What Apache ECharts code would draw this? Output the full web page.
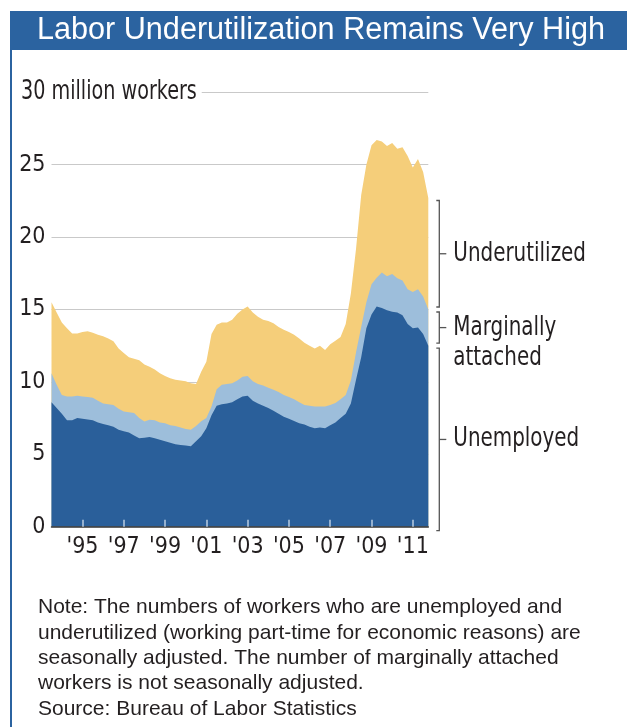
<!DOCTYPE html>
<html>
<head>
<meta charset="utf-8">
<script src="https://cdn.jsdelivr.net/npm/echarts@6/dist/echarts.min.js"></script>
<style>
  html, body { margin: 0; padding: 0; background: #fff; }
  #chart { width: 627px; height: 727px; }
</style>
</head>
<body>
<div id="chart"></div>
<script>
// quarterly readings, millions of workers
const dates = [
  1994, 1994.25, 1994.5, 1994.75, 1995, 1995.25, 1995.5, 1995.75,
  1996, 1996.25, 1996.5, 1996.75, 1997, 1997.25, 1997.5, 1997.75,
  1998, 1998.25, 1998.5, 1998.75, 1999, 1999.25, 1999.5, 1999.75,
  2000, 2000.25, 2000.5, 2000.75, 2001, 2001.25, 2001.5, 2001.75,
  2002, 2002.25, 2002.5, 2002.75, 2003, 2003.25, 2003.5, 2003.75,
  2004, 2004.25, 2004.5, 2004.75, 2005, 2005.25, 2005.5, 2005.75,
  2006, 2006.25, 2006.5, 2006.75, 2007, 2007.25, 2007.5, 2007.75,
  2008, 2008.25, 2008.5, 2008.75, 2009, 2009.25, 2009.5, 2009.75,
  2010, 2010.25, 2010.5, 2010.75, 2011, 2011.25, 2011.5, 2011.75,
  2012, 2012.25
]

// top of the unemployed band
const unemployed = [
  8.6, 8.2, 7.8, 7.35, 7.35, 7.5, 7.45, 7.4,
  7.35, 7.2, 7.1, 7.0, 6.9, 6.7, 6.6, 6.5,
  6.3, 6.1, 6.15, 6.2, 6.1, 6.0, 5.9, 5.8,
  5.7, 5.65, 5.6, 5.55, 5.9, 6.25, 6.8, 7.7,
  8.35, 8.45, 8.5, 8.6, 8.8, 9.0, 9.05, 8.7,
  8.5, 8.35, 8.2, 8.0, 7.8, 7.6, 7.45, 7.3,
  7.15, 7.05, 6.9, 6.8, 6.85, 6.8, 7.0, 7.2,
  7.5, 7.8, 8.5, 10.15, 11.7, 13.7, 14.65, 15.2,
  15.1, 14.95, 14.85, 14.8, 14.6, 14.0, 13.7, 13.75,
  13.3, 12.5
]

// unemployed + marginally attached
const withMarginal = [
  10.6, 9.8, 9.1, 9.0, 9.0, 9.05, 9.0, 8.95,
  8.9, 8.7, 8.5, 8.45, 8.4, 8.15, 7.95, 7.9,
  7.85, 7.5, 7.26, 7.38, 7.35, 7.2, 7.15, 7.0,
  6.95, 6.85, 6.75, 6.7, 6.95, 7.28, 7.5, 8.3,
  9.5, 9.8, 9.85, 9.9, 10.1, 10.35, 10.4, 10.05,
  9.85, 9.75, 9.6, 9.45, 9.3, 9.1, 8.95, 8.8,
  8.6, 8.4, 8.35, 8.3, 8.3, 8.3, 8.4, 8.55,
  8.8, 9.1, 10.1, 12.05, 13.8, 15.5, 16.75, 17.2,
  17.55, 17.3, 17.45, 17.15, 17.0, 16.4, 16.2, 16.4,
  15.9, 15.0
]

// all three groups together
const total = [
  15.5, 14.8, 14.1, 13.7, 13.35, 13.35, 13.45, 13.5,
  13.4, 13.25, 13.15, 13.0, 12.8, 12.3, 12.0, 11.7,
  11.6, 11.5, 11.2, 11.05, 10.85, 10.6, 10.4, 10.25,
  10.15, 10.1, 10.05, 9.9, 9.85, 10.7, 11.4, 13.3,
  13.95, 14.1, 14.1, 14.3, 14.7, 15.0, 15.2, 14.8,
  14.5, 14.3, 14.2, 14.05, 13.8, 13.6, 13.45, 13.25,
  13.0, 12.7, 12.5, 12.3, 12.5, 12.2, 12.6, 12.85,
  13.1, 14.0, 16.1, 19.2, 22.9, 25.0, 26.35, 26.7,
  26.6, 26.3, 26.5, 26.1, 26.2, 25.6, 24.8, 25.4,
  24.5, 22.7
]

const tickYears = [1995, 1997, 1999, 2001, 2003, 2005, 2007, 2009, 2011]
const groupLabels = ['Unemployed', 'Marginally\nattached', 'Underutilized']

const NARROW = '"Liberation Sans Narrow", "DejaVu Sans Condensed", "Liberation Sans", sans-serif'
const SQUEEZE = 0.82
const INK = '#231f20'
const colors = {
  unemployed: '#2a5f9a',
  marginal: '#9dbedb',
  under: '#f5ce7a',
  bar: '#2b63a0',
  grid: '#c9c9c9',
}

const pairs = (vals) => vals.map((v, i) => [dates[i], v])
const last = dates.length - 1
const brackets = [
  [dates[last], 0, unemployed[last], 0],
  [dates[last], unemployed[last], withMarginal[last], 1],
  [dates[last], withMarginal[last], total[last], 2],
]

function areaSeries(name, vals, color) {
  return {
    name,
    type: 'line',
    data: pairs(vals),
    symbol: 'none',
    lineStyle: { width: 0 },
    areaStyle: { color, opacity: 1 },
    itemStyle: { color },
    silent: true,
  }
}

function renderBracket(params, api) {
  const lo = api.value(1)
  const hi = api.value(2)
  const text = groupLabels[api.value(3)]
  const x = api.coord([api.value(0), 0])[0] + 11
  const yTop = api.coord([0, hi])[1] + 2.5
  const yBot = lo === 0 ? api.coord([0, 0])[1] + 4 : api.coord([0, lo])[1] - 2.5
  const yMid = (yTop + yBot) / 2
  const stroke = { stroke: '#555', lineWidth: 1.3, fill: null }
  return {
    type: 'group',
    children: [
      { type: 'polyline', shape: { points: [[x - 3, yTop], [x, yTop], [x, yBot], [x - 3, yBot]] }, style: stroke },
      { type: 'line', shape: { x1: x, y1: yMid, x2: x + 7, y2: yMid }, style: stroke },
      {
        type: 'text',
        x: x + 14,
        y: yMid - 15,
        scaleX: SQUEEZE,
        style: { text, fill: INK, fontSize: 27, fontFamily: NARROW, lineHeight: 30, verticalAlign: 'top' },
      },
    ],
  }
}

const chart = echarts.init(document.getElementById('chart'), null, { renderer: 'canvas' })

chart.setOption({
  animation: false,
  backgroundColor: '#fff',
  grid: { left: 51.5, right: 198.7, top: 92.3, bottom: 200.3 },
  xAxis: {
    type: 'value',
    min: 1994,
    max: 2012.25,
    splitLine: { show: false },
    axisLine: { lineStyle: { color: '#333', width: 1.5 } },
    axisTick: {
      inside: true,
      length: 7,
      lineStyle: { color: '#b9cde2', width: 1.5 },
      customValues: tickYears.map((y) => y + 0.5),
    },
    axisLabel: {
      customValues: tickYears.map((y) => y + 0.5),
      formatter: (v) => "'" + String(Math.floor(v)).slice(2),
      color: INK,
      fontSize: 23,
      fontFamily: NARROW,
      margin: 9,
    },
    z: 5,
  },
  yAxis: {
    type: 'value',
    min: 0,
    max: 30,
    interval: 5,
    axisLine: { show: false },
    axisTick: { show: false },
    splitLine: { lineStyle: { color: colors.grid, width: 1 } },
    axisLabel: {
      formatter: (v) => (v === 30 ? '' : String(v)),
      color: INK,
      fontSize: 23,
      fontFamily: NARROW,
      margin: 6,
    },
  },
  series: [
    areaSeries('Underutilized', total, colors.under),
    areaSeries('Marginally attached', withMarginal, colors.marginal),
    areaSeries('Unemployed', unemployed, colors.unemployed),
    {
      type: 'custom',
      renderItem: renderBracket,
      data: brackets,
      encode: { x: 0, y: [1, 2] },
      clip: false,
      silent: true,
      z: 10,
    },
  ],
  graphic: [
    { type: 'rect', shape: { x: 10, y: 11, width: 617, height: 39 }, style: { fill: colors.bar }, z: 20 },
    { type: 'rect', shape: { x: 10, y: 11, width: 2, height: 716 }, style: { fill: colors.bar }, z: 20 },
    {
      type: 'text',
      x: 321,
      y: 31,
      z: 21,
      style: {
        text: 'Labor Underutilization Remains Very High',
        fill: '#fff',
        fontSize: 30.6,
        fontFamily: '"Liberation Sans", Arial, sans-serif',
        align: 'center',
        verticalAlign: 'middle',
      },
    },
    {
      type: 'text',
      x: 21,
      y: 92.3,
      z: 21,
      scaleX: SQUEEZE,
      style: {
        text: '30 million workers',
        fill: INK,
        fontSize: 26,
        fontFamily: NARROW,
        verticalAlign: 'middle',
        backgroundColor: '#fff',
        padding: [0, 6, 0, 0],
      },
    },
    {
      type: 'text',
      x: 38,
      y: 595,
      z: 21,
      style: {
        text: 'Note: The numbers of workers who are unemployed and\n' +
          'underutilized (working part-time for economic reasons) are\n' +
          'seasonally adjusted. The number of marginally attached\n' +
          'workers is not seasonally adjusted.\n' +
          'Source: Bureau of Labor Statistics',
        fill: INK,
        fontSize: 21,
        lineHeight: 25.3,
        fontFamily: '"Liberation Sans", Arial, sans-serif',
        verticalAlign: 'top',
      },
    },
  ],
})
</script>
</body>
</html>
